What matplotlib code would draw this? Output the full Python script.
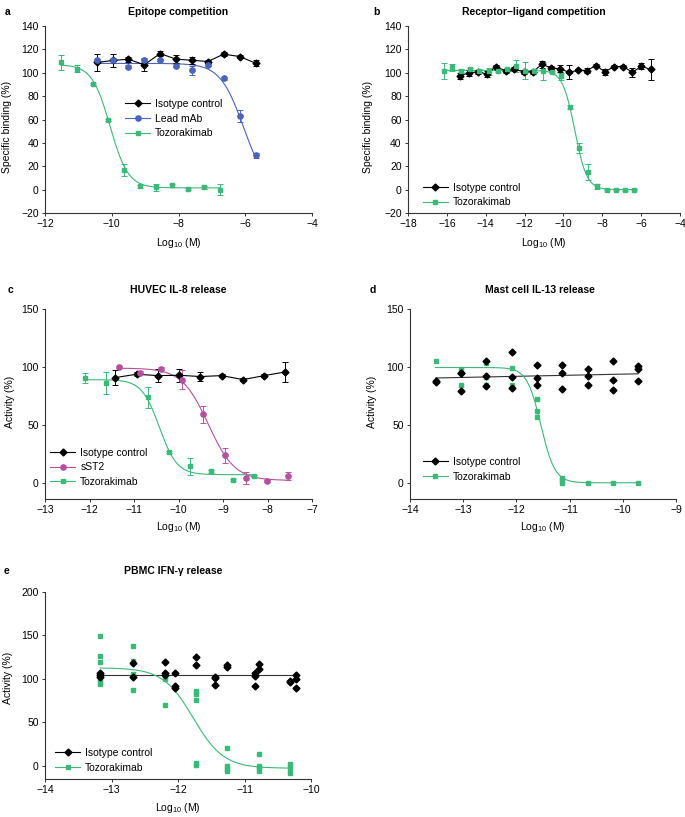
import numpy as np
import matplotlib.pyplot as plt
from matplotlib.lines import Line2D

plt.rcParams['font.family'] = ['Liberation Sans', 'DejaVu Sans']
plt.rcParams['font.size'] = 7
plt.rcParams['mathtext.fontset'] = 'custom'
plt.rcParams['mathtext.rm'] = 'Liberation Sans'
plt.rcParams['mathtext.it'] = 'Liberation Sans:italic'

GREEN = '#3cb878'
BLUE = '#4b63b8'
MAGENTA = '#b5509f'
BLACK = '#000000'

# ---- a: Epitope competition ----
a_iso_x = [-10.45, -9.97, -9.50, -9.03, -8.55, -8.07, -7.60, -7.12, -6.65, -6.17, -5.69]
a_iso_y = [108.8, 110.5, 111.6, 106.8, 116.4, 111.6, 110.7, 109.6, 115.9, 113.9, 108.2]
a_iso_e = [7.5, 5.7, 2.0, 5.0, 2.0, 3.5, 3.0, 1.5, 1.5, 1.5, 2.5]
a_lead_x = [-10.45, -9.97, -9.50, -9.03, -8.55, -8.07, -7.60, -7.12, -6.65, -6.17, -5.69]
a_lead_y = [110.5, 111.3, 105.3, 110.7, 110.7, 106.2, 102.2, 106.8, 95.1, 63.0, 29.2]
a_lead_e = [1.0, 1.0, 1.0, 1.5, 1.0, 1.0, 4.0, 1.0, 1.0, 5.0, 2.0]
a_lead_fit = (108.0, 0.0, -6.06, 1.25)
a_toz_x = [-11.53, -11.05, -10.57, -10.10, -9.63, -9.15, -8.67, -8.20, -7.72, -7.25, -6.77]
a_toz_y = [108.8, 103.3, 90.3, 59.3, 16.7, 2.8, 2.2, 3.6, 0.8, 1.9, 0.0]
a_toz_e = [6.5, 3.0, 1.0, 1.0, 5.0, 1.0, 3.0, 1.0, 1.0, 1.0, 4.5]
a_toz_fit = (107.0, 1.5, -10.05, 1.6)

# ---- b: Receptor-ligand competition ----
b_iso_x = [-15.34, -14.86, -14.39, -13.91, -13.48, -12.98, -12.52, -12.05, -11.57, -11.11, -10.65,
           -10.18, -9.70, -9.24, -8.79, -8.33, -7.86, -7.40, -6.92, -6.45, -5.99, -5.51]
b_iso_y = [97.4, 99.9, 100.8, 98.8, 105.3, 101.6, 103.1, 100.8, 100.8, 107.3, 104.2,
           103.4, 100.3, 102.2, 101.9, 106.2, 100.8, 105.3, 105.3, 100.3, 105.6, 102.8]
b_iso_e = [2.5, 2.5, 1.5, 2.5, 1.5, 1.5, 1.5, 1.5, 1.5, 3.0, 2.0,
           3.0, 6.0, 1.0, 2.5, 1.0, 2.5, 1.0, 1.0, 4.0, 2.5, 8.8]
b_toz_x = [-16.16, -15.71, -15.25, -14.79, -14.32, -13.82, -13.36, -12.91, -12.45, -11.99, -11.52,
           -11.06, -10.59, -10.13, -9.67, -9.20, -8.72, -8.26, -7.78, -7.31, -6.85, -6.38]
b_toz_y = [101.6, 104.5, 101.9, 103.1, 101.9, 101.4, 101.6, 102.8, 105.9, 101.9, 101.9,
           101.4, 100.8, 96.8, 70.7, 35.7, 15.0, 2.8, 0.0, 0.0, -0.3, 0.0]
b_toz_e = [7.0, 3.0, 1.0, 1.0, 1.0, 3.0, 1.0, 1.0, 5.0, 7.0, 1.0,
           7.4, 1.0, 3.0, 2.0, 4.0, 7.0, 2.0, 0.5, 0.5, 0.5, 0.5]
b_toz_fit = (102.0, 0.0, -9.42, 1.4)

# ---- c: HUVEC IL-8 release ----
c_iso_x = [-11.42, -10.94, -10.46, -9.98, -9.51, -9.03, -8.55, -8.07, -7.60]
c_iso_y = [90.8, 93.7, 92.5, 92.8, 91.7, 92.5, 89.1, 92.5, 95.7]
c_iso_e = [6.3, 1.5, 5.5, 5.5, 3.7, 1.0, 1.0, 1.5, 8.5]
c_sst2_x = [-11.34, -10.87, -10.39, -9.92, -9.44, -8.96, -8.48, -8.01, -7.54]
c_sst2_y = [100.0, 95.1, 98.6, 89.1, 59.2, 23.6, 4.3, 1.7, 5.5]
c_sst2_e = [1.0, 1.0, 1.0, 7.9, 7.3, 6.5, 5.0, 1.0, 3.5]
c_sst2_fit = (99.0, 2.0, -9.33, 1.46)
c_toz_x = [-12.11, -11.63, -10.69, -10.21, -9.74, -9.26, -8.78, -8.31]
c_toz_y = [90.5, 86.5, 73.9, 26.4, 14.1, 9.8, 2.6, 5.7]
c_toz_e = [4.3, 9.5, 9.2, 1.0, 7.5, 1.0, 1.0, 1.0]
c_toz_fit = (89.0, 7.0, -10.43, 2.2)

# ---- d: Mast cell IL-13 release (replicates) ----
d_iso_x = [-13.52, -13.52, -13.04, -13.04, -13.04, -12.57, -12.57, -12.57, -12.09, -12.09, -12.09,
           -11.61, -11.61, -11.61, -11.14, -11.14, -11.14, -10.66, -10.66, -10.66,
           -10.18, -10.18, -10.18, -9.71, -9.71, -9.71]
d_iso_y = [86.8, 88.0, 94.8, 79.3, 95.0, 104.9, 92.5, 83.6, 112.6, 91.1, 81.9,
           101.4, 90.5, 84.2, 101.7, 94.8, 81.3, 98.6, 92.5, 84.5,
           104.9, 88.8, 79.9, 100.6, 98.6, 87.6]
d_toz_x = [-13.52, -13.52, -13.04, -13.04, -12.57, -12.57, -12.57, -12.09, -12.09,
           -11.61, -11.61, -11.61, -11.14, -11.14, -11.14, -10.66, -10.18, -9.71]
d_toz_y = [104.9, 88.2, 98.3, 84.2, 103.4, 91.4, 84.2, 98.9, 84.2,
           72.7, 62.1, 56.6, 4.3, 2.3, 0.0, 0.0, 0.0, 0.0]
d_toz_fit = (99.5, 0.0, -11.54, 3.3)

# ---- e: PBMC IFN-gamma release (replicates) ----
e_iso_x = [-13.17, -13.17, -13.17, -12.68, -12.68, -12.20, -12.20, -12.20, -12.04, -12.04, -12.04,
           -11.73, -11.73, -11.44, -11.44, -11.44, -11.26, -11.26, -10.84, -10.84, -10.84,
           -10.78, -10.78, -10.31, -10.31, -10.23, -10.23, -10.23]
e_iso_y = [106.0, 104.0, 102.0, 118.0, 101.5, 118.7, 106.0, 104.0, 106.0, 91.5, 89.0,
           125.0, 115.5, 102.0, 101.0, 92.5, 116.0, 113.0, 106.7, 102.9, 91.4,
           116.3, 110.6, 96.3, 97.0, 104.0, 100.2, 89.4]
e_toz_x = [-13.17, -13.17, -13.17, -13.17, -13.17, -13.17, -12.68, -12.68, -12.68, -12.68,
           -12.20, -12.20, -12.20, -11.73, -11.73, -11.73, -11.73, -11.73,
           -11.26, -11.26, -11.26, -11.26, -10.78, -10.78, -10.78, -10.78,
           -10.31, -10.31, -10.31, -10.31]
e_toz_y = [149.0, 126.0, 119.5, 100.0, 96.0, 94.0, 137.0, 120.0, 105.0, 87.0,
           104.0, 100.0, 69.5, 85.5, 82.0, 75.0, 3.0, 0.5,
           20.0, 0.0, -4.0, -6.0, 13.5, 0.0, -3.0, -6.0,
           2.0, -2.0, -5.0, -8.0]
e_toz_fit = (112.5, -3.0, -11.77, 1.9)


def four_pl(x, top, bottom, logic50, hill):
    return bottom + (top - bottom) / (1 + 10 ** (hill * (x - logic50)))


def fit_curve(ax, xs, params, color):
    xx = np.linspace(min(xs), max(xs), 300)
    ax.plot(xx, four_pl(xx, *params), color=color, lw=0.8, zorder=2)


def style(ax, xlim, xticks, ylim, yticks, ylabel, ylab_pos, xlab_y):
    ax.set_xlim(*xlim)
    ax.set_ylim(*ylim)
    ax.set_xticks(xticks)
    ax.set_yticks(yticks)
    for s in ['top', 'right']:
        ax.spines[s].set_visible(False)
    for s in ['left', 'bottom']:
        ax.spines[s].set_color('#333333')
        ax.spines[s].set_linewidth(0.8)
    ax.tick_params(length=2.5, width=0.7, color='#333333', labelsize=7.5, pad=2)
    ax.set_xlabel('Log$_{10}$ (M)', fontsize=7.5, va='center')
    ax.xaxis.set_label_coords(0.5, xlab_y)
    ax.set_ylabel(ylabel, fontsize=7.5, va='center')
    ax.yaxis.set_label_coords(*ylab_pos)


def handle(color, marker, ms):
    return Line2D([], [], color=color, marker=marker, ms=ms, lw=0.8)


def legend(ax, handles, labels, loc, anchor):
    ax.legend(handles, labels, loc=loc, bbox_to_anchor=anchor, frameon=False,
              borderpad=0, borderaxespad=0, handlelength=2.4, handletextpad=0.5,
              labelspacing=0.45, fontsize=7.5)


err_kw = dict(capsize=2, elinewidth=0.7, capthick=0.7)

fig = plt.figure(figsize=(6.85, 8.17), dpi=100)
W, H = 685.0, 817.0


def make_axes(left, top, right, bottom):
    return fig.add_axes([left / W, 1 - bottom / H, (right - left) / W, (bottom - top) / H])


# panel a
ax = make_axes(45, 26, 312, 213)
ax.errorbar(a_iso_x, a_iso_y, yerr=a_iso_e, fmt='-D', color=BLACK, ms=3.5, lw=0.8, zorder=3, **err_kw)
ax.errorbar(a_lead_x, a_lead_y, yerr=a_lead_e, fmt='o', color=BLUE, ms=3.8, zorder=3, **err_kw)
fit_curve(ax, a_lead_x, a_lead_fit, BLUE)
ax.errorbar(a_toz_x, a_toz_y, yerr=a_toz_e, fmt='s', color=GREEN, ms=3.5, zorder=3, **err_kw)
fit_curve(ax, a_toz_x, a_toz_fit, GREEN)
style(ax, (-12, -4), [-12, -10, -8, -6, -4], (-20, 140), range(-20, 141, 20),
      'Specific binding (%)', (-0.142, 0.46), -0.16)
legend(ax, [handle(BLACK, 'D', 3.5), handle(BLUE, 'o', 3.8), handle(GREEN, 's', 3.5)],
       ['Isotype control', 'Lead mAb', 'Tozorakimab'], 'upper left', (0.30, 0.61))

# panel b
ax = make_axes(408, 26, 680, 213)
ax.errorbar(b_iso_x, b_iso_y, yerr=b_iso_e, fmt='-D', color=BLACK, ms=3.5, lw=0.8, zorder=3, **err_kw)
ax.errorbar(b_toz_x, b_toz_y, yerr=b_toz_e, fmt='s', color=GREEN, ms=3.5, zorder=3, **err_kw)
fit_curve(ax, b_toz_x, b_toz_fit, GREEN)
style(ax, (-18, -4), range(-18, -3, 2), (-20, 140), range(-20, 141, 20),
      'Specific binding (%)', (-0.146, 0.46), -0.16)
legend(ax, [handle(BLACK, 'D', 3.5), handle(GREEN, 's', 3.5)],
       ['Isotype control', 'Tozorakimab'], 'lower left', (0.055, 0.03))

# panel c
ax = make_axes(45, 309, 312, 499)
ax.errorbar(c_iso_x, c_iso_y, yerr=c_iso_e, fmt='-D', color=BLACK, ms=3.5, lw=0.8, zorder=3, **err_kw)
ax.errorbar(c_sst2_x, c_sst2_y, yerr=c_sst2_e, fmt='o', color=MAGENTA, ms=3.8, zorder=3, **err_kw)
fit_curve(ax, c_sst2_x, c_sst2_fit, MAGENTA)
ax.errorbar(c_toz_x, c_toz_y, yerr=c_toz_e, fmt='s', color=GREEN, ms=3.5, zorder=3, **err_kw)
fit_curve(ax, c_toz_x, c_toz_fit, GREEN)
style(ax, (-13, -7), range(-13, -6), (-14, 150), [0, 50, 100, 150],
      'Activity (%)', (-0.131, 0.512), -0.148)
legend(ax, [handle(BLACK, 'D', 3.5), handle(MAGENTA, 'o', 3.8), handle(GREEN, 's', 3.5)],
       ['Isotype control', 'sST2', 'Tozorakimab'], 'upper left', (0.019, 0.27))

# panel d
ax = make_axes(410, 309, 676, 499)
ax.plot(d_iso_x, d_iso_y, 'D', color=BLACK, ms=3.5, zorder=3)
slope, icpt = np.polyfit(d_iso_x, d_iso_y, 1)
xx = np.array([min(d_iso_x), max(d_iso_x)])
ax.plot(xx, slope * xx + icpt, color='#333333', lw=0.8, zorder=2)
ax.plot(d_toz_x, d_toz_y, 's', color=GREEN, ms=3.5, zorder=2.5)
fit_curve(ax, d_toz_x, d_toz_fit, GREEN)
style(ax, (-14, -9), range(-14, -8), (-14, 150), [0, 50, 100, 150],
      'Activity (%)', (-0.143, 0.512), -0.148)
legend(ax, [handle(BLACK, 'D', 3.5), handle(GREEN, 's', 3.5)],
       ['Isotype control', 'Tozorakimab'], 'upper left', (0.048, 0.222))

# panel e
ax = make_axes(45, 591.7, 311, 778.7)
ax.plot(e_iso_x, e_iso_y, 'D', color=BLACK, ms=3.5, zorder=3)
ax.plot([min(e_iso_x), max(e_iso_x)], [np.mean(e_iso_y)] * 2, color='#333333', lw=0.8, zorder=2)
ax.plot(e_toz_x, e_toz_y, 's', color=GREEN, ms=3.5, zorder=2.5)
fit_curve(ax, e_toz_x, e_toz_fit, GREEN)
style(ax, (-14, -10), range(-14, -9), (-15, 200), [0, 50, 100, 150, 200],
      'Activity (%)', (-0.139, 0.538), -0.155)
legend(ax, [handle(BLACK, 'D', 3.5), handle(GREEN, 's', 3.5)],
       ['Isotype control', 'Tozorakimab'], 'upper left', (0.038, 0.165))

# titles and panel letters
titles = [('a', 5, 12, 'Epitope competition', 178),
          ('b', 373, 12, 'Receptor\u2013ligand competition', 534),
          ('c', 8, 290, 'HUVEC IL-8 release', 178),
          ('d', 370, 290, 'Mast cell IL-13 release', 540),
          ('e', 4, 571, 'PBMC IFN-\u03b3 release', 173)]
for letter, lx, ly, title, tx in titles:
    fig.text(lx / W, 1 - ly / H, letter, fontsize=7.5, fontweight='bold', ha='left', va='center')
    fig.text(tx / W, 1 - ly / H, title, fontsize=7.5, fontweight='bold', ha='center', va='center')

plt.savefig('out.png', dpi=100)
